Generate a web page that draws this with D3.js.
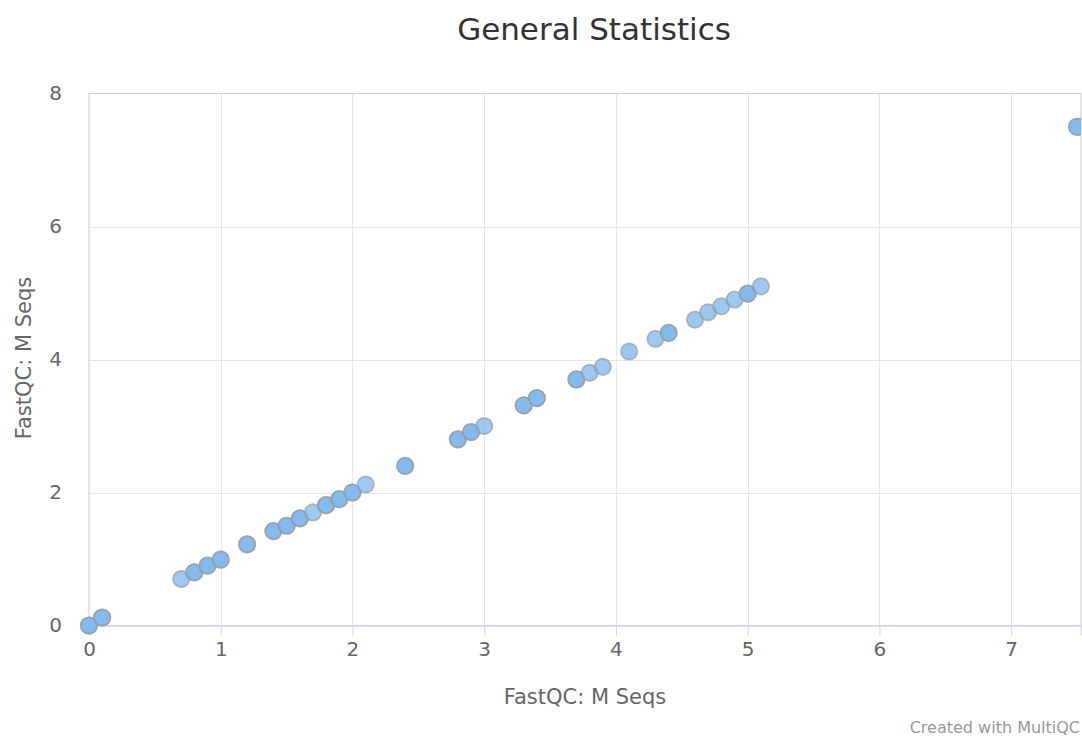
<!DOCTYPE html>
<html>
<head>
<meta charset="utf-8">
<script src="https://cdn.jsdelivr.net/npm/d3@7"></script>
<style>
  html, body { margin: 0; padding: 0; background: #fff; }
  svg { display: block; font-family: "DejaVu Sans", sans-serif; }
</style>
</head>
<body>
<svg id="chart" width="1082" height="736"></svg>
<script>
// ---- data ----
const chartTitle = "General Statistics";
const xAxisTitle = "FastQC: M Seqs";
const yAxisTitle = "FastQC: M Seqs";
const creditText = "Created with MultiQC";
// sample values (x = y, both M Seqs); overlap = number of samples at that spot
const xValues = [0.0, 0.1, 0.7, 0.8, 0.9, 1.0, 1.2, 1.4, 1.5, 1.6, 1.7, 1.8, 1.9, 2.0, 2.1, 2.4,
                 2.8, 2.9, 3.0, 3.3, 3.4, 3.7, 3.8, 3.9, 4.1, 4.3, 4.4, 4.6, 4.7, 4.8, 4.9, 5.0, 5.1, 7.5];
const yValues = [0.0, 0.12, 0.7, 0.8, 0.9, 0.99, 1.22, 1.42, 1.5, 1.61, 1.7, 1.81, 1.9, 2.0, 2.12, 2.4,
                 2.8, 2.91, 3.0, 3.31, 3.42, 3.7, 3.8, 3.89, 4.12, 4.31, 4.4, 4.6, 4.71, 4.8, 4.9, 4.99, 5.1, 7.5];
const overlap = [2, 2, 1, 2, 2, 2, 2, 2, 2, 2, 1, 2, 2, 2, 1, 2,
                 2, 2, 1, 2, 2, 2, 1, 1, 1, 1, 2, 1, 1, 1, 1, 2, 1, 2];
const xTicks = [0, 1, 2, 3, 4, 5, 6, 7];
const yTicks = [0, 2, 4, 6, 8];
const xDomain = [0, 7.53];
const yDomain = [0, 8];

// ---- layout ----
const svg = d3.select("#chart");
const plot = { left: 89, top: 93.5, right: 1081, bottom: 625.5 };

const x = d3.scaleLinear().domain(xDomain).range([plot.left, plot.right]);
const y = d3.scaleLinear().domain(yDomain).range([plot.bottom, plot.top]);

// title
svg.append("text")
  .attr("x", 594).attr("y", 40)
  .attr("text-anchor", "middle")
  .attr("font-size", 31)
  .attr("fill", "#333333")
  .text(chartTitle);

// grid lines
const grid = svg.append("g");
grid.selectAll("line.vx").data(xTicks.filter(d => d > 0)).join("line")
  .attr("x1", d => Math.round(x(d)) + 0.5).attr("x2", d => Math.round(x(d)) + 0.5)
  .attr("y1", plot.top).attr("y2", plot.bottom)
  .attr("stroke", "#e6e6e6").attr("stroke-width", 1);
grid.selectAll("line.hy").data(yTicks.filter(d => d > 0 && d < 8)).join("line")
  .attr("x1", plot.left).attr("x2", plot.right)
  .attr("y1", d => Math.round(y(d)) + 0.5).attr("y2", d => Math.round(y(d)) + 0.5)
  .attr("stroke", "#e6e6e6").attr("stroke-width", 1);

// plot border
svg.append("rect")
  .attr("x", plot.left).attr("y", plot.top)
  .attr("width", plot.right - plot.left).attr("height", plot.bottom - plot.top)
  .attr("fill", "none").attr("stroke", "#cccccc").attr("stroke-width", 1);

// x axis
const xAxis = d3.axisBottom(x).tickValues(xTicks).tickFormat(d3.format("d")).tickSize(10).tickPadding(6);
const gx = svg.append("g").attr("transform", `translate(0,${plot.bottom})`).call(xAxis);
gx.select(".domain").attr("stroke", "#ccd6eb").attr("stroke-width", 1.5);
gx.selectAll(".tick line").attr("stroke", "#ccd6eb");
gx.selectAll(".tick text").attr("fill", "#666666").attr("font-size", 20)
  .attr("font-family", "DejaVu Sans, sans-serif");

// y axis (labels only)
const yAxis = d3.axisLeft(y).tickValues(yTicks).tickFormat(d3.format("d")).tickSize(0).tickPadding(27);
const gy = svg.append("g").attr("transform", `translate(${plot.left},0)`).call(yAxis);
gy.select(".domain").remove();
gy.selectAll(".tick text").attr("fill", "#666666").attr("font-size", 20)
  .attr("font-family", "DejaVu Sans, sans-serif");

// axis titles
svg.append("text")
  .attr("x", 585).attr("y", 704)
  .attr("text-anchor", "middle")
  .attr("font-size", 21)
  .attr("fill", "#666666")
  .text(xAxisTitle);
svg.append("text")
  .attr("transform", "translate(31,358) rotate(-90)")
  .attr("text-anchor", "middle")
  .attr("font-size", 21)
  .attr("fill", "#666666")
  .text(yAxisTitle);

// points
const pts = [];
xValues.forEach((v, i) => { for (let k = 0; k < overlap[i]; k++) pts.push({ x: v, y: yValues[i] }); });
svg.append("defs").append("clipPath").attr("id", "clip")
  .append("rect").attr("x", plot.left - 12).attr("y", plot.top - 12)
  .attr("width", plot.right - plot.left + 12).attr("height", plot.bottom - plot.top + 24);
svg.append("g").attr("clip-path", "url(#clip)")
  .selectAll("circle").data(pts).join("circle")
  .attr("cx", d => x(d.x)).attr("cy", d => y(d.y))
  .attr("r", 8.2)
  .attr("fill", "rgb(124,181,236)").attr("fill-opacity", 0.75)
  .attr("stroke", "#999999").attr("stroke-opacity", 0.65).attr("stroke-width", 1.8);

// credits
svg.append("text")
  .attr("x", 1080).attr("y", 733)
  .attr("text-anchor", "end")
  .attr("font-size", 16)
  .attr("fill", "#999999")
  .text(creditText);
</script>
</body>
</html>
